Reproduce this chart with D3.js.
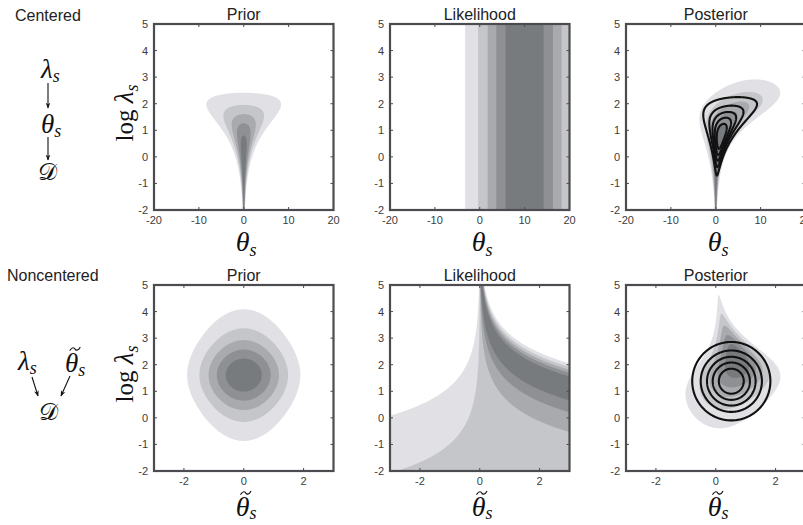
<!DOCTYPE html>
<html><head><meta charset="utf-8">
<script src="https://cdn.jsdelivr.net/npm/d3@7"></script>
<style>body{margin:0;background:#fff}svg{display:block}</style>
</head><body>
<svg id="chart" width="803" height="525"></svg>
<script>
// ---------------- data ----------------
const rowNames = ["Centered", "Noncentered"];
const panelTitles = ["Prior", "Likelihood", "Posterior"];
const xTicksCentered = [-20, -10, 0, 10, 20];
const xTicksNoncentered = [-2, 0, 2];
const yTicks = [-2, -1, 0, 1, 2, 3, 4, 5];
const xDomainCentered = [-20, 20];
const xDomainNoncentered = [-3, 3];
const yDomain = [-2, 5];
const priorScale = [5];          // half-Cauchy scale of lambda_s
const observation = [10];        // observed datum D
const observationSd = [7];       // noise sd of D
const approxMean = [0.52, 1.38]; // Gaussian approximation (theta~, log lambda) in noncentered space
const approxSd = [0.69, 0.78];
const levelFractions = [1/6, 2/6, 3/6, 4/6, 5/6];
const fillColors = ["#e1e1e5", "#c5c6ca", "#a9aaae", "#8f9094", "#787b7e"];

// ---------------- layout ----------------
const colLeft = [154, 390, 626];
const rowTop = [24, 285];
const PW = 179.5, PH = 186;
const frameColor = "#4b4b50";
const svg = d3.select("#chart");

// ---------------- log densities ----------------
const s0 = priorScale[0], y0 = observation[0], sig = observationSd[0];
const sq = v => v * v;
const logPriorLogLam = u => u - Math.log(s0 * s0 + Math.exp(2 * u));
const logQ = (tt, u) => -sq(tt - approxMean[0]) / (2 * sq(approxSd[0])) - sq(u - approxMean[1]) / (2 * sq(approxSd[1]));
const dens = {
  cPrior: (t, u) => logPriorLogLam(u) - u - t * t / (2 * Math.exp(2 * u)),
  cLik: (t, u) => -sq(y0 - t) / (2 * sig * sig),
  ncPrior: (t, u) => -t * t / 2 + logPriorLogLam(u),
  ncLik: (t, u) => -sq(y0 - Math.exp(u) * t) / (2 * sig * sig),
  ncQ: (t, u) => logQ(t, u),
  cQ: (t, u) => logQ(t / Math.exp(u), u) - u
};
dens.cPost = (t, u) => dens.cPrior(t, u) + dens.cLik(t, u);
dens.ncPost = (t, u) => dens.ncPrior(t, u) + dens.ncLik(t, u);

function grid(fn, xd, nx, ny) {
  const vals = new Float64Array(nx * ny);
  let mx = -Infinity;
  for (let j = 0; j < ny; j++) {
    const u = yDomain[0] + j * (yDomain[1] - yDomain[0]) / (ny - 1);
    for (let i = 0; i < nx; i++) {
      const t = xd[0] + i * (xd[1] - xd[0]) / (nx - 1);
      const v = fn(t, u);
      vals[j * nx + i] = v;
      if (v > mx) mx = v;
    }
  }
  for (let k = 0; k < vals.length; k++) vals[k] = Math.exp(vals[k] - mx);
  return vals;
}

function tildePath(g, cx, cy, w) {
  const a = cx - w / 2;
  g.append("path")
    .attr("d", `M${a},${cy + 1.3} C${a + w * 0.25},${cy - 2.6} ${a + w * 0.45},${cy - 1.2} ${cx},${cy} S${a + w * 0.8},${cy + 2.4} ${a + w},${cy - 1.5}`)
    .attr("fill", "none").attr("stroke", "#111").attr("stroke-width", 1.2).attr("stroke-linecap", "round");
}

function panel(r, c, spec) {
  const left = colLeft[c], top = rowTop[r];
  const xd = r === 0 ? xDomainCentered : xDomainNoncentered;
  const xt = r === 0 ? xTicksCentered : xTicksNoncentered;
  const x = d3.scaleLinear().domain(xd).range([left, left + PW]);
  const y = d3.scaleLinear().domain(yDomain).range([top + PH, top]);
  const g = svg.append("g");
  const cid = `clip${r}${c}`;
  g.append("clipPath").attr("id", cid).append("rect")
    .attr("x", left).attr("y", top).attr("width", PW).attr("height", PH);
  const plot = g.append("g").attr("clip-path", `url(#${cid})`);

  const nx = r === 0 ? 801 : 361, ny = 351;
  const gx = d3.scaleLinear().domain([0.5, nx - 0.5]).range(xd);
  const gy = d3.scaleLinear().domain([0.5, ny - 0.5]).range(yDomain);
  const path = d3.geoPath(d3.geoTransform({
    point(px, py) { this.stream.point(x(gx(px)), y(gy(py))); }
  }));

  if (spec.fill) {
    const vals = grid(dens[spec.fill], xd, nx, ny);
    const cs = d3.contours().size([nx, ny]).thresholds(levelFractions)(vals);
    plot.selectAll("path.f").data(cs).join("path").attr("class", "f")
      .attr("d", path).attr("fill", (d, i) => fillColors[i]).attr("stroke", "none");
  }
  if (spec.lines) {
    const vals = grid(dens[spec.lines], xd, nx, ny);
    const cs = d3.contours().size([nx, ny]).thresholds(levelFractions)(vals);
    plot.selectAll("path.l").data(cs).join("path").attr("class", "l")
      .attr("d", path).attr("fill", "none").attr("stroke", "#111").attr("stroke-width", 2.1)
      .attr("stroke-linejoin", "round");
  }

  // ticks on all four sides (inward)
  const tk = g.append("g").attr("stroke", frameColor).attr("stroke-width", 1);
  xt.forEach(v => {
    tk.append("line").attr("x1", x(v)).attr("x2", x(v)).attr("y1", top + PH).attr("y2", top + PH - 3);
    tk.append("line").attr("x1", x(v)).attr("x2", x(v)).attr("y1", top).attr("y2", top + 3);
  });
  yTicks.forEach(v => {
    tk.append("line").attr("x1", left).attr("x2", left + 3).attr("y1", y(v)).attr("y2", y(v));
    tk.append("line").attr("x1", left + PW).attr("x2", left + PW - 3).attr("y1", y(v)).attr("y2", y(v));
  });
  g.append("rect").attr("x", left).attr("y", top).attr("width", PW).attr("height", PH)
    .attr("fill", "none").attr("stroke", frameColor).attr("stroke-width", 2.2);

  const lab = g.append("g").attr("font-family", "Liberation Sans, Arial, sans-serif")
    .attr("font-size", 11).attr("fill", "#3c3c3c");
  lab.selectAll("text.xt").data(xt).join("text").attr("class", "xt")
    .attr("x", d => x(d)).attr("y", top + PH + 13.5).attr("text-anchor", "middle").text(d => d);
  lab.selectAll("text.yt").data(yTicks).join("text").attr("class", "yt")
    .attr("x", left - 6).attr("y", d => y(d) + 4).attr("text-anchor", "end").text(d => d);

  g.append("text").attr("x", left + PW / 2).attr("y", top - 4).attr("text-anchor", "middle")
    .attr("font-family", "Liberation Sans, Arial, sans-serif").attr("font-size", 16)
    .attr("fill", "#222").text(panelTitles[c]);

  // x axis label
  const cx = left + PW / 2;
  const by = r === 0 ? top + PH + 41 : top + PH + 45;
  const xl = g.append("text").attr("font-family", "Liberation Serif, DejaVu Serif, serif")
    .attr("fill", "#111").attr("x", cx - 8).attr("y", by);
  xl.append("tspan").attr("font-size", 28).attr("font-style", "italic").text("θ");
  xl.append("tspan").attr("font-size", 18).attr("font-style", "italic").attr("dy", r === 0 ? 5 : 3).text("s");
  if (r === 1) tildePath(g, cx + 2, by - 23, 10);
  // y label
  if (c === 0) {
    const yl = g.append("text").attr("transform", `translate(${left - 21},${top + PH / 2 - 4}) rotate(-90)`)
      .attr("text-anchor", "middle").attr("font-family", "Liberation Serif, DejaVu Serif, serif").attr("fill", "#111");
    yl.append("tspan").attr("font-size", 25).text("log ");
    yl.append("tspan").attr("font-size", 27).attr("font-style", "italic").text("λ");
    yl.append("tspan").attr("font-size", 18).attr("font-style", "italic").attr("dy", 5).text("s");
  }
}

const specs = [
  [{ fill: "cPrior" }, { fill: "cLik" }, { fill: "cPost", lines: "cQ" }],
  [{ fill: "ncPrior" }, { fill: "ncLik" }, { fill: "ncPost", lines: "ncQ" }]
];
specs.forEach((row, r) => row.forEach((s, c) => panel(r, c, s)));

// ---------------- left annotations ----------------
const defs = svg.append("defs");
defs.append("marker").attr("id", "arr").attr("viewBox", "0 0 10 10").attr("refX", 9).attr("refY", 5)
  .attr("markerWidth", 6).attr("markerHeight", 7).attr("markerUnits", "userSpaceOnUse").attr("orient", "auto")
  .append("path").attr("d", "M0,1 L10,5 L0,9 L3,5 Z").attr("fill", "#111");

const ann = svg.append("g").attr("fill", "#111");
ann.append("text").attr("x", 15).attr("y", 21).attr("font-family", "Liberation Sans, Arial, sans-serif")
  .attr("font-size", 16).attr("fill", "#222").text(rowNames[0]);
ann.append("text").attr("x", 7).attr("y", 281).attr("font-family", "Liberation Sans, Arial, sans-serif")
  .attr("font-size", 16).attr("fill", "#222").text(rowNames[1]);

function sym(xp, yp, main, sub, tilde) {
  const t = ann.append("text").attr("x", xp).attr("y", yp).attr("font-family", "Liberation Serif, DejaVu Serif, serif");
  t.append("tspan").attr("font-size", 27).attr("font-style", "italic").text(main);
  if (sub) t.append("tspan").attr("font-size", 18).attr("font-style", "italic").attr("dy", 4).text(sub);
  if (tilde) tildePath(ann, xp + 10, yp - 23, 10);
}
function arrow(x1, y1, x2, y2) {
  ann.append("line").attr("x1", x1).attr("y1", y1).attr("x2", x2).attr("y2", y2)
    .attr("stroke", "#111").attr("stroke-width", 1.1).attr("marker-end", "url(#arr)");
}
// centered graph
sym(41, 78, "λ", "s");
arrow(48, 83, 48, 108);
sym(41, 133, "θ", "s");
arrow(48, 137, 48, 160);
ann.append("text").attr("x", 47).attr("y", 180).attr("text-anchor", "middle")
  .attr("font-family", "DejaVu Serif, serif").attr("font-size", 24).text("𝒟");
// noncentered graph
sym(18, 370, "λ", "s");
sym(65, 372, "θ", "s", true);
arrow(32, 377, 38, 396);
arrow(70, 376, 61, 396);
ann.append("text").attr("x", 48).attr("y", 420).attr("text-anchor", "middle")
  .attr("font-family", "DejaVu Serif, serif").attr("font-size", 24).text("𝒟");
</script>
</body></html>
